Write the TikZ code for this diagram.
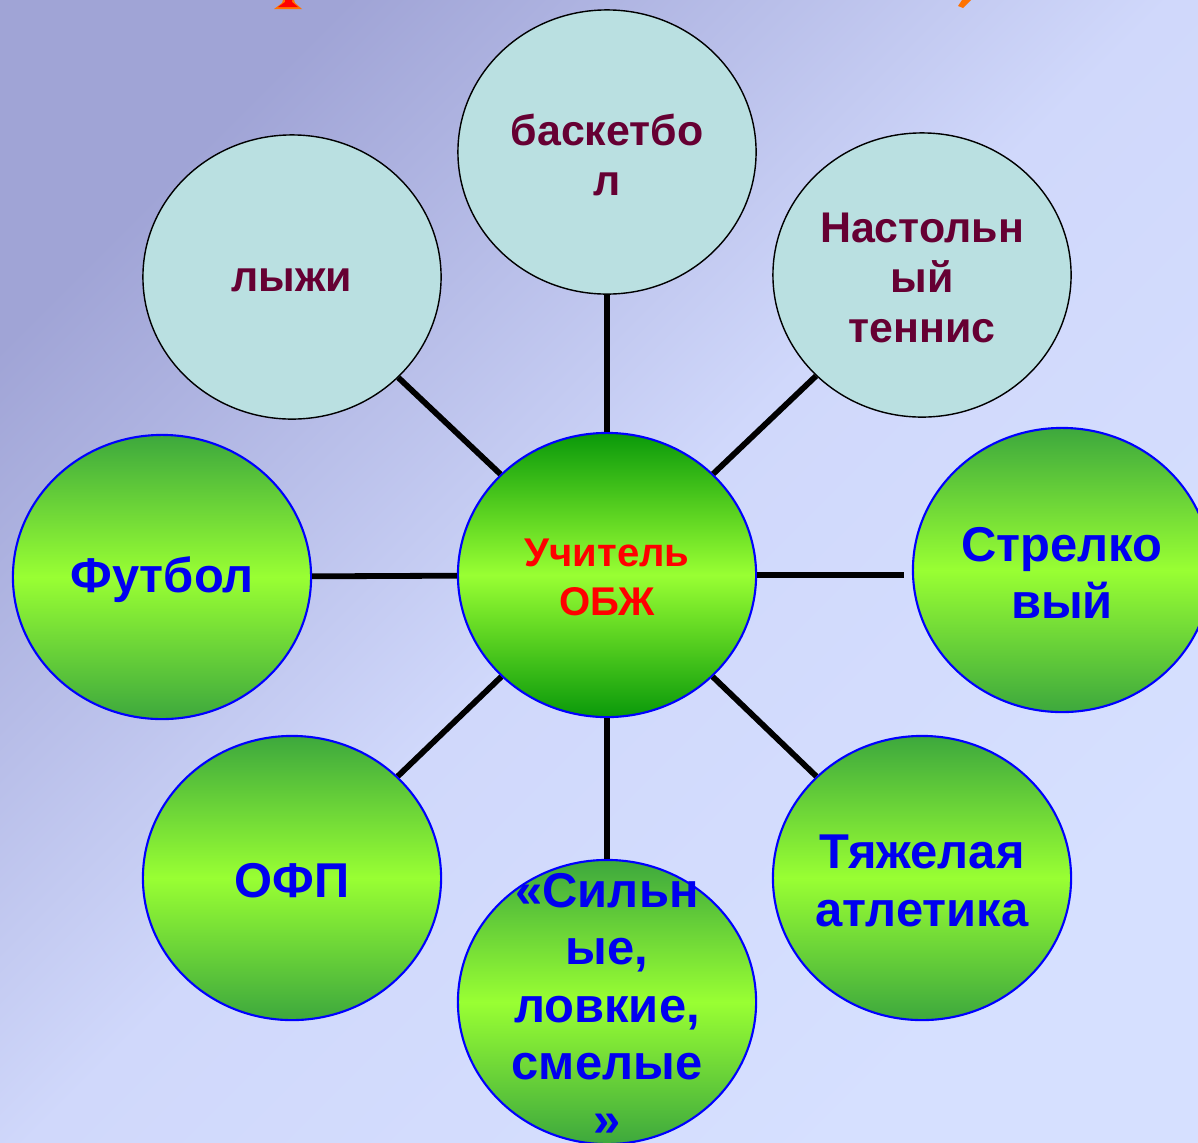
\documentclass[tikz,border=0pt]{standalone}
\usepackage{fontspec}
\setmainfont{Liberation Sans}
\usetikzlibrary{shapes.geometric}

\definecolor{bgdark}{HTML}{A0A4D6}
\definecolor{bgmid}{HTML}{D0D8FB}
\definecolor{bglight}{HTML}{D6E0FF}
\definecolor{ballcyan}{HTML}{BAE0E1}
\definecolor{txtmaroon}{HTML}{660033}
\definecolor{txtblue}{HTML}{0000F0}
\definecolor{lime}{HTML}{99FF33}
\definecolor{grass}{HTML}{3DA83D}
\definecolor{deepgreen}{HTML}{0A990A}

\begin{document}
\begin{tikzpicture}[x=0.01cm,y=-0.01cm]
    \tikzstyle{ball} = [ellipse, minimum width=2.98cm, minimum height=2.84cm, inner sep=0pt]
\tikzstyle{sport} = [ball, draw=black, line width=0.4pt, fill=ballcyan]
\tikzstyle{club} = [ball, draw=blue, line width=0.6pt, top color=grass, bottom color=grass, middle color=lime]
\tikzstyle{teacher} = [ball, draw=blue, line width=0.6pt, top color=deepgreen, bottom color=deepgreen, middle color=lime]
\tikzstyle{maroontext} = [align=center, yshift=-0.03cm, text=txtmaroon, font=\fontsize{12.2}{14.2}\selectfont\bfseries]
\tikzstyle{bluetext} = [align=center, yshift=-0.03cm, text=txtblue, font=\fontsize{13.9}{16.3}\selectfont\bfseries]
\tikzstyle{redtext} = [align=center, yshift=-0.02cm, text=red, font=\fontsize{11.4}{13.9}\selectfont\bfseries]
\tikzstyle{spoke} = [line width=1.65pt, black]
    \useasboundingbox (0,0) rectangle (1198,1142);
\shade[top color=bgdark, bottom color=bglight, middle color=bgmid, shading angle=45] (0,0) rectangle (1198,1142);

% bits of the title cut off at the top
\fill[orange!90!red] (274,9) -- (302,9) -- (295,3) -- (294,0) -- (283,0) -- (282,3) -- cycle;
\fill[red] (278,7) -- (298,7) -- (292,2) -- (292,0) -- (285,0) -- (285,2) -- cycle;
\fill[orange!90!red] (962,0) -- (971,0) -- (963,8) -- (958,6) -- cycle;

    \node (teacher) [teacher] at (607,575) {};
\node (basket) [sport] at (607,152) {};
\node (ski) [sport] at (292,277) {};
\node (tennis) [sport] at (922,275) {};
\node (football) [club] at (162,577) {};
\node (shoot) [club] at (1062,570) {};
\node (ofp) [club] at (292,878) {};
\node (lifting) [club] at (922,878) {};
\node (strong) [club] at (607,1002) {};

\node (teacher-t) [redtext] at (teacher) {Учитель\\ОБЖ};
\node (basket-t) [maroontext] at (basket) {баскетбо\\л};
\node (ski-t) [maroontext] at (ski) {лыжи};
\node (tennis-t) [maroontext] at (tennis) {Настольн\\ый\\теннис};
\node (football-t) [bluetext] at (football) {Футбол};
\node (shoot-t) [bluetext] at (shoot) {Стрелко\\вый};
\node (ofp-t) [bluetext] at (ofp) {ОФП};
\node (lifting-t) [bluetext] at (lifting) {Тяжелая\\атлетика};
\node (strong-t) [bluetext] at (strong) {«Сильн\\ые,\\ловкие,\\смелые\\»};

\draw[spoke] (teacher) -- (basket);
\draw[spoke] (teacher) -- (ski);
\draw[spoke] (teacher) -- (tennis);
\draw[spoke] (teacher) -- (football);
\draw[spoke, shorten >=0.08cm] (teacher) -- (teacher -| shoot.west);
  \draw[spoke] (teacher) -- (ofp);
\draw[spoke] (teacher) -- (lifting);
\draw[spoke] (teacher) -- (strong);
  \end{tikzpicture}
\end{document}
